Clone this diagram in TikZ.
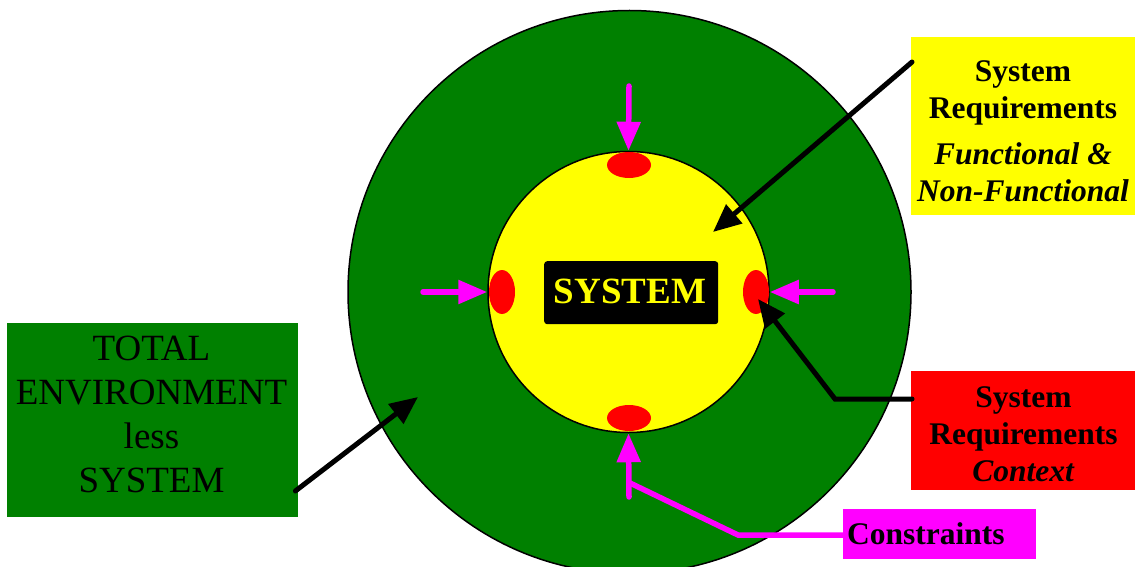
\documentclass[tikz,border=0pt]{standalone}
\usepackage{fontspec}
\setmainfont{Liberation Serif}
\usetikzlibrary{arrows.meta,calc}
\definecolor{envgreen}{RGB}{0,128,0}
\definecolor{sysyellow}{RGB}{255,255,0}
\definecolor{reqred}{RGB}{255,0,0}
\definecolor{conmag}{RGB}{255,0,255}
\begin{document}
\begin{tikzpicture}[x=1pt,y=-1pt,
  labelbox/.style={rectangle, draw=none, inner sep=0pt, anchor=north west},
  lbltext/.style={inner sep=0pt, align=center},
  reqfont/.style={font=\fontsize{31.5}{37}\selectfont\bfseries},
  envfont/.style={font=\fontsize{37}{44}\selectfont},
  blackarrow/.style={draw=black, line width=5pt, line cap=round, line join=miter,
    -{Triangle[length=28pt,width=24pt]}},
  magline/.style={draw=conmag, line width=5.5pt, line cap=round},
  magarrow/.style={magline, -{Triangle[length=29pt,width=23pt]}},
  port/.style={fill=reqred, draw=none}
]
\clip (0,0) rectangle (1135,567);
\useasboundingbox (0,0) rectangle (1135,567);

% circles
\node[circle, draw=black, line width=1.5pt, fill=envgreen, minimum size=563pt, inner sep=0pt] (env) at (629.5,292) {};
\node[circle, draw=black, line width=1.5pt, fill=sysyellow, minimum size=281pt, inner sep=0pt] (inner) at (628.5,292) {};

% red ports
\fill[port] (629,165) ellipse [x radius=22, y radius=13];
\fill[port] (629,418) ellipse [x radius=22, y radius=13];
\fill[port] (502,292) ellipse [x radius=13, y radius=22];
\fill[port] (756,292) ellipse [x radius=13, y radius=22];

% system box
\node[labelbox, fill=black, rounded corners=3pt, minimum width=174pt, minimum height=63pt] (sysbox) at (544,261) {};
\node[inner sep=0pt, anchor=base, text=sysyellow, font=\fontsize{37}{44}\selectfont\bfseries] (systext) at (630,303.5) {SYSTEM};

% label boxes
\node[labelbox, fill=sysyellow, minimum width=224pt, minimum height=178pt] (ybox) at (911,37) {};
\node[labelbox, fill=reqred, minimum width=224pt, minimum height=119pt] (rbox) at (911,371) {};
\node[labelbox, fill=envgreen, minimum width=291pt, minimum height=194pt] (gbox) at (7,323) {};
\node[labelbox, fill=conmag, minimum width=193pt, minimum height=50pt] (cbox) at (843,509) {};

% label texts
\node[lbltext, reqfont, anchor=north] (ytext) at (1023,60)
  {System\\Requirements\\[9pt]\textit{Functional \&}\\\textit{Non-Functional}};
\node[lbltext, reqfont, anchor=north] (rtext) at (1023.5,386)
  {System\\Requirements\\\textit{Context}};
\node[lbltext, envfont, anchor=north] (gtext) at (151.5,336)
  {TOTAL\\ENVIRONMENT\\less\\SYSTEM};
\node[inner sep=0pt, reqfont, anchor=base west] (ctext) at (847,544) {Constraints};

% connector ends
\coordinate (fnTip) at (713,232);
\coordinate (ctxBend) at (835,399);
\coordinate (ctxTip) at (758,299);
\coordinate (envTip) at (418,397);
\coordinate (topStart) at (629,86);
\coordinate (leftStart) at (423,292);
\coordinate (rightStart) at (833,292);
\coordinate (botStart) at (629,497);
\coordinate (conBend) at (738,535);
\coordinate (conEnd) at (630,483);

% black arrows
\draw[blackarrow] ($(ybox.north west)+(1,25)$) -- (fnTip);
\draw[blackarrow] ($(rbox.north west)+(1,28)$) -- (ctxBend) -- (ctxTip);
\draw[blackarrow] ($(gbox.north east)+(-3,168)$) -- (envTip);

% magenta arrows
\draw[magarrow] (topStart) -- (inner.north);
\draw[magarrow] (leftStart) -- (inner.west);
\draw[magarrow] (rightStart) -- (inner.east);
\draw[magarrow] (botStart) -- (inner.south);
\draw[magline] ($(cbox.west)+(0,1)$) -- (conBend) -- (conEnd);
\end{tikzpicture}
\end{document}
